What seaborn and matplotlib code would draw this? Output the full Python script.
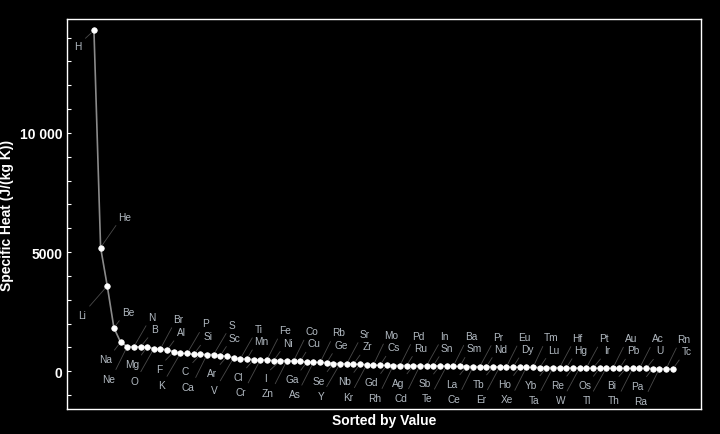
import matplotlib
matplotlib.use("Agg")
import matplotlib.pyplot as plt
import matplotlib.ticker as mticker
import numpy as np
import pandas as pd
import seaborn as sns

# elements sorted by specific heat (J/(kg K)), largest first
elements = ["H", "He", "Li", "Be", "Na", "Ne", "N", "B", "Mg", "O", "Br", "Al",
            "F", "K", "P", "Si", "C", "Ca", "S", "Sc", "Ar", "V", "Ti", "Mn",
            "Cl", "Cr", "Fe", "Ni", "I", "Zn", "Co", "Cu", "Ga", "As", "Rb", "Ge",
            "Se", "Y", "Sr", "Zr", "Nb", "Kr", "Mo", "Cs", "Gd", "Rh", "Pd", "Ru",
            "Ag", "Cd", "In", "Sn", "Sb", "Te", "Ba", "Sm", "La", "Ce", "Pr", "Nd",
            "Tb", "Er", "Eu", "Dy", "Ho", "Xe", "Tm", "Lu", "Yb", "Ta", "Hf", "Hg",
            "Re", "W", "Pt", "Ir", "Os", "Tl", "Au", "Pb", "Bi", "Th", "Ac", "U",
            "Pa", "Ra", "Rn", "Tc"]
heat = [14300, 5193, 3582, 1825, 1228, 1040, 1030, 1026, 1023, 950, 947, 897,
        824, 757, 750, 712, 710, 705, 705, 660, 630, 567, 523, 520,
        489, 479, 478, 449, 448, 445, 429, 421, 388, 384, 371, 364,
        328, 322, 321, 300, 298, 278, 265, 251, 248, 244, 243, 242,
        238, 236, 235, 233, 230, 217, 207, 204, 201, 197, 195, 193,
        192, 190, 182, 182, 170, 168, 165, 160, 158, 155, 154, 144,
        140, 139, 137, 133, 132, 131, 130, 129, 129, 127, 122, 120,
        118, 116, 99, 94]

df = pd.DataFrame({"rank": np.arange(1, len(heat) + 1), "heat": heat, "element": elements})

plt.rcParams['font.family'] = ['Liberation Sans', 'DejaVu Sans']

fig = plt.figure(figsize=(7.2, 4.35), dpi=100, facecolor="black")
ax = fig.add_axes([0.0926, 0.0575, 0.881, 0.8965])
ax.set_facecolor("black")

sns.lineplot(data=df, x="rank", y="heat", ax=ax, color="#8a8a8a", lw=1.2,
             marker="o", markersize=4.0, markerfacecolor="white",
             markeredgecolor="white", markeredgewidth=0.5, zorder=3)

# label offsets in pixels (dx right, dy down)
def label_offset(i):
    first = {0: (-16, 16), 1: (24, -31), 2: (-25, 29), 3: (14, -16)}
    if i in first:
        return first[i]
    k, j = divmod(i - 4, 2)
    if k % 2 == 0:
        return [(-15, 17), (-19, 32)][j]
    return [(18, -30), (14, -18)][j]

for i, row in df.iterrows():
    dx, dy = label_offset(i)
    relpos = (0.1, 0.1) if dy < 0 else (0.9, 0.9)
    ax.annotate(row["element"], xy=(row["rank"], row["heat"]),
                xytext=(dx * 0.72, -dy * 0.72), textcoords="offset points",
                ha="center", va="center", fontsize=7.3, color="#b2bac2",
                arrowprops=dict(arrowstyle="-", color="#4a4a4a", lw=0.6,
                                shrinkA=1, shrinkB=2.5, relpos=relpos))

ax.set_xlim(-3.1, 92.25)
ax.set_ylim(-1580, 14780)
ax.set_xticks([])
ax.yaxis.set_major_locator(mticker.FixedLocator([0, 5000, 10000]))
ax.yaxis.set_minor_locator(mticker.MultipleLocator(1000))
ax.yaxis.set_major_formatter(mticker.FuncFormatter(
    lambda v, p: f"{int(v):,}".replace(",", " ") if v >= 10000 else f"{int(v)}"))
ax.tick_params(axis="y", which="both", direction="in", colors="white",
               length=2.6, width=0.8, pad=3, labelsize=10)
for lab in ax.get_yticklabels():
    lab.set_fontweight("bold")
for s in ax.spines.values():
    s.set_color("white")
    s.set_linewidth(1.0)

ax.set_xlabel("Sorted by Value", color="white", fontsize=10, fontweight="bold", labelpad=3)
ax.set_ylabel("Specific Heat (J/(kg K))", color="white", fontsize=10, fontweight="bold")
ax.yaxis.set_label_coords(-0.083, 0.5)

fig.savefig("out.png", dpi=100, facecolor="black")
